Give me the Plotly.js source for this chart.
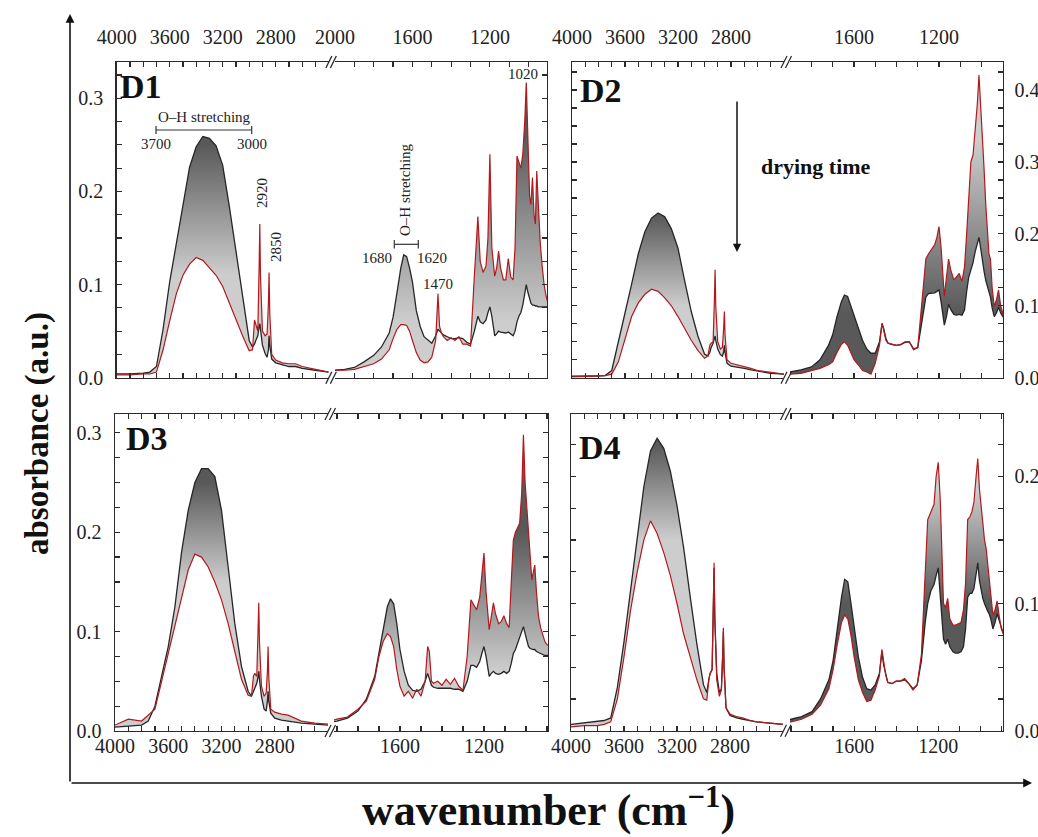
<!DOCTYPE html>
<html><head><meta charset="utf-8">
<script src="https://cdn.plot.ly/plotly-3.0.1.min.js"></script>
<style>html,body{margin:0;padding:0;background:#fff}#chart{width:1038px;height:837px}</style>
</head><body><div id="chart"></div>
<script>
// ---------- data (wavenumber grids, cm-1) ----------
const wnHigh = [4000,3900,3800,3750,3700,3650,3600,3550,3500,3450,3400,3350,3300,3250,3200,3150,3100,3050,3000,2975,2960,2950,2935,2925,2920,2915,2900,2880,2865,2855,2850,2845,2830,2800,2750,2700,2650,2600,2500,2400];
const wnLow = [2000,1950,1900,1850,1800,1760,1720,1700,1680,1660,1645,1630,1615,1600,1580,1560,1540,1520,1500,1480,1468,1460,1450,1440,1420,1400,1380,1360,1340,1320,1300,1280,1262,1250,1235,1220,1210,1200,1190,1175,1165,1155,1145,1130,1118,1105,1092,1080,1070,1060,1050,1040,1030,1020,1012,1004,995,988,980,972,965,958,950,940,930,920,910,900,890,880];

// first spectrum (start of drying, dark) and last spectrum (end of drying, red)
const d1FirstHigh = [0.004,0.004,0.005,0.006,0.012,0.052,0.103,0.146,0.185,0.226,0.248,0.259,0.257,0.249,0.228,0.184,0.136,0.085,0.040,0.033,0.036,0.040,0.045,0.055,0.058,0.052,0.035,0.026,0.022,0.030,0.045,0.035,0.020,0.016,0.014,0.012,0.012,0.010,0.008,0.006];
const d1LastHigh = [0.003,0.003,0.004,0.004,0.006,0.030,0.061,0.090,0.110,0.122,0.129,0.126,0.118,0.110,0.098,0.080,0.062,0.045,0.029,0.030,0.062,0.058,0.050,0.120,0.165,0.110,0.050,0.045,0.047,0.080,0.113,0.070,0.025,0.019,0.016,0.015,0.015,0.012,0.009,0.006];
const d1FirstLow = [0.008,0.009,0.011,0.017,0.024,0.033,0.048,0.065,0.091,0.118,0.132,0.130,0.118,0.103,0.072,0.055,0.044,0.040,0.037,0.045,0.052,0.050,0.048,0.046,0.044,0.042,0.042,0.043,0.042,0.038,0.036,0.050,0.066,0.060,0.058,0.062,0.070,0.076,0.066,0.045,0.047,0.050,0.049,0.048,0.048,0.049,0.047,0.045,0.050,0.060,0.066,0.070,0.078,0.090,0.100,0.092,0.085,0.080,0.078,0.078,0.077,0.077,0.076,0.076,0.076,0.076,0.076,0.076,0.076,0.076];
const d1LastLow = [0.008,0.008,0.009,0.012,0.015,0.020,0.030,0.042,0.052,0.057,0.057,0.056,0.050,0.040,0.027,0.019,0.016,0.017,0.022,0.040,0.090,0.055,0.048,0.044,0.040,0.043,0.040,0.044,0.036,0.036,0.034,0.110,0.173,0.125,0.113,0.120,0.150,0.240,0.140,0.109,0.118,0.136,0.118,0.105,0.105,0.128,0.108,0.105,0.140,0.238,0.232,0.225,0.240,0.275,0.317,0.250,0.195,0.186,0.215,0.175,0.165,0.222,0.185,0.145,0.120,0.100,0.088,0.080,0.078,0.078];

const d2FirstHigh = [0.002,0.002,0.002,0.003,0.010,0.048,0.090,0.130,0.172,0.203,0.222,0.229,0.224,0.207,0.180,0.135,0.092,0.058,0.033,0.030,0.035,0.042,0.048,0.055,0.058,0.052,0.040,0.032,0.030,0.036,0.045,0.035,0.020,0.016,0.015,0.013,0.011,0.009,0.006,0.005];
const d2LastHigh = [0.001,0.001,0.002,0.003,0.005,0.022,0.055,0.085,0.104,0.116,0.123,0.120,0.111,0.100,0.085,0.068,0.052,0.038,0.027,0.030,0.045,0.048,0.050,0.110,0.150,0.100,0.050,0.040,0.042,0.070,0.092,0.060,0.025,0.020,0.018,0.016,0.013,0.010,0.007,0.005];
const d2FirstLow = [0.006,0.007,0.008,0.011,0.015,0.025,0.045,0.060,0.085,0.105,0.115,0.113,0.100,0.088,0.070,0.052,0.040,0.034,0.034,0.050,0.075,0.068,0.055,0.048,0.046,0.045,0.046,0.049,0.050,0.040,0.042,0.080,0.112,0.117,0.118,0.118,0.120,0.122,0.105,0.073,0.085,0.102,0.095,0.088,0.087,0.088,0.087,0.094,0.120,0.140,0.150,0.160,0.175,0.185,0.195,0.180,0.160,0.148,0.135,0.125,0.118,0.112,0.097,0.085,0.090,0.098,0.090,0.085,0.085,0.085];
const d2LastLow = [0.004,0.004,0.005,0.006,0.010,0.013,0.018,0.022,0.035,0.046,0.050,0.045,0.035,0.025,0.018,0.010,0.008,0.005,0.020,0.045,0.076,0.066,0.052,0.048,0.046,0.045,0.046,0.050,0.050,0.039,0.042,0.110,0.165,0.172,0.178,0.185,0.195,0.210,0.180,0.113,0.140,0.165,0.150,0.136,0.140,0.145,0.134,0.154,0.200,0.260,0.300,0.310,0.340,0.380,0.421,0.370,0.330,0.290,0.240,0.200,0.172,0.165,0.125,0.099,0.108,0.122,0.100,0.090,0.088,0.088];

const d3FirstHigh = [0.004,0.005,0.006,0.010,0.025,0.055,0.085,0.125,0.180,0.222,0.250,0.264,0.264,0.256,0.222,0.165,0.108,0.065,0.040,0.035,0.040,0.045,0.048,0.055,0.060,0.052,0.035,0.022,0.020,0.030,0.040,0.030,0.018,0.013,0.011,0.010,0.009,0.008,0.007,0.006];
const d3LastHigh = [0.006,0.012,0.010,0.016,0.022,0.050,0.078,0.105,0.135,0.162,0.178,0.175,0.165,0.150,0.132,0.108,0.080,0.052,0.036,0.035,0.055,0.058,0.055,0.100,0.129,0.090,0.045,0.035,0.038,0.060,0.085,0.055,0.022,0.019,0.017,0.016,0.013,0.010,0.008,0.007];
const d3FirstLow = [0.008,0.008,0.010,0.013,0.020,0.032,0.055,0.078,0.105,0.125,0.133,0.128,0.108,0.082,0.060,0.046,0.041,0.040,0.042,0.050,0.058,0.052,0.046,0.044,0.043,0.043,0.043,0.043,0.042,0.042,0.040,0.050,0.066,0.066,0.064,0.070,0.078,0.085,0.075,0.055,0.058,0.060,0.058,0.057,0.058,0.060,0.058,0.060,0.068,0.078,0.082,0.088,0.092,0.098,0.105,0.098,0.090,0.085,0.083,0.082,0.082,0.082,0.080,0.079,0.078,0.077,0.076,0.076,0.076,0.076];
const d3LastLow = [0.010,0.009,0.012,0.014,0.022,0.030,0.052,0.075,0.090,0.098,0.095,0.085,0.062,0.045,0.035,0.040,0.033,0.042,0.035,0.050,0.085,0.080,0.050,0.048,0.050,0.046,0.052,0.047,0.053,0.045,0.041,0.075,0.132,0.128,0.122,0.135,0.155,0.179,0.140,0.102,0.115,0.129,0.118,0.108,0.110,0.116,0.108,0.104,0.150,0.192,0.200,0.205,0.209,0.240,0.298,0.250,0.222,0.200,0.180,0.152,0.160,0.167,0.140,0.115,0.104,0.096,0.090,0.087,0.086,0.086];

const d4FirstHigh = [0.005,0.006,0.007,0.008,0.010,0.034,0.070,0.110,0.152,0.192,0.220,0.230,0.222,0.204,0.177,0.144,0.105,0.068,0.036,0.030,0.040,0.045,0.048,0.100,0.128,0.090,0.045,0.030,0.033,0.060,0.078,0.050,0.018,0.012,0.010,0.009,0.008,0.007,0.006,0.005];
const d4LastHigh = [0.003,0.004,0.004,0.005,0.007,0.025,0.058,0.095,0.125,0.150,0.165,0.155,0.140,0.122,0.100,0.076,0.058,0.040,0.025,0.024,0.040,0.045,0.048,0.105,0.132,0.090,0.040,0.027,0.032,0.060,0.081,0.050,0.018,0.013,0.011,0.010,0.008,0.007,0.006,0.005];
const d4FirstLow = [0.008,0.008,0.009,0.011,0.015,0.025,0.040,0.055,0.080,0.105,0.119,0.117,0.100,0.082,0.058,0.042,0.033,0.032,0.036,0.045,0.062,0.052,0.044,0.038,0.037,0.039,0.039,0.040,0.037,0.033,0.036,0.055,0.085,0.100,0.110,0.115,0.122,0.128,0.105,0.072,0.068,0.072,0.066,0.062,0.061,0.061,0.062,0.066,0.080,0.105,0.108,0.108,0.112,0.122,0.132,0.118,0.110,0.104,0.100,0.096,0.094,0.092,0.088,0.080,0.085,0.092,0.086,0.080,0.076,0.074];
const d4LastLow = [0.006,0.006,0.007,0.009,0.013,0.020,0.033,0.048,0.068,0.085,0.091,0.088,0.075,0.058,0.040,0.030,0.023,0.024,0.032,0.043,0.064,0.054,0.044,0.038,0.037,0.039,0.039,0.041,0.037,0.032,0.036,0.060,0.120,0.166,0.172,0.178,0.200,0.211,0.180,0.100,0.097,0.104,0.088,0.083,0.083,0.084,0.085,0.095,0.116,0.166,0.168,0.172,0.180,0.200,0.214,0.190,0.174,0.160,0.150,0.143,0.132,0.122,0.105,0.091,0.095,0.102,0.090,0.080,0.076,0.074];

const panelLabels = ['D1','D2','D3','D4'];
const highTickLabels = [4000,3600,3200,2800];
const lowTickLabelsD1 = [2000,1600,1200];
const lowTickLabels = [1600,1200];
const yTickLabels = [0.0,0.1,0.2,0.3,0.4];

// ---------- layout helpers (pixel geometry) ----------
const W = 1038, H = 837;
const fx = p => p / W;
const fy = p => 1 - p / H;
const FONT = 'Liberation Serif, Times New Roman, serif';
const INK = '#2a2a2a';
const LIGHT = '#cdcdcd', DARK = '#595959';
const darkTop = [[0, LIGHT], [1, DARK]];
const darkBottom = [[0, DARK], [1, LIGHT]];

const panels = [
  {label: panelLabels[0], first: [d1FirstHigh, d1FirstLow], last: [d1LastHigh, d1LastLow],
   left: [116.7, 328.7], right: [335, 547], top: 62, bottom: 377.7, yMax: 0.339,
   lowRange: [2000, 905], lowLabels: lowTickLabelsD1, xSide: 'top', ySide: 'left', lab: [141, 87],
   grad: [{cs: darkTop, start: 0.11, stop: 0.25}, {cs: darkTop, start: 0.06, stop: 0.26}]},
  {label: panelLabels[1], first: [d2FirstHigh, d2FirstLow], last: [d2LastHigh, d2LastLow],
   left: [572, 784], right: [790, 1003], top: 62, bottom: 377.7, yMax: 0.439,
   lowRange: [1901, 899], lowLabels: lowTickLabels, xSide: 'top', ySide: 'right', lab: [601, 90],
   grad: [{cs: darkTop, start: 0.10, stop: 0.225}, {cs: darkBottom, start: 0.09, stop: 0.33}]},
  {label: panelLabels[2], first: [d3FirstHigh, d3FirstLow], last: [d3LastHigh, d3LastLow],
   left: [115, 328], right: [334, 548], top: 414, bottom: 731, yMax: 0.319,
   lowRange: [1914, 895], lowLabels: lowTickLabels, xSide: 'bottom', ySide: 'left', lab: [146.7, 438],
   grad: [{cs: darkTop, start: 0.15, stop: 0.25}, {cs: darkTop, start: 0.06, stop: 0.2}]},
  {label: panelLabels[3], first: [d4FirstHigh, d4FirstLow], last: [d4LastHigh, d4LastLow],
   left: [571, 783], right: [790, 1003], top: 414, bottom: 730.7, yMax: 0.249,
   lowRange: [1905, 892], lowLabels: lowTickLabels, xSide: 'bottom', ySide: 'right', lab: [600, 447],
   grad: [{cs: darkTop, start: 0.15, stop: 0.225}, {cs: darkBottom, start: 0.1, stop: 0.19}]}
];

// tick positions every 100 cm-1, labels only on the listed values
function xTicks(range, labels) {
  const hi = Math.max(range[0], range[1]), lo = Math.min(range[0], range[1]);
  const vals = [], text = [];
  for (let v = 4000; v >= 800; v -= 100) {
    if (v <= hi + 0.1 && v >= lo - 0.1) { vals.push(v); text.push(labels.indexOf(v) >= 0 ? String(v) : ''); }
  }
  return {vals, text};
}
// y ticks every 0.025, labels every 0.1
function yTicks(yMax) {
  const vals = [], text = [];
  for (let k = 0; k * 0.025 <= yMax + 1e-9; k++) {
    const v = +(k * 0.025).toFixed(3);
    vals.push(v);
    const lab = yTickLabels.find(t => Math.abs(t - v) < 1e-9);
    text.push(lab !== undefined ? lab.toFixed(1) : '');
  }
  return {vals, text};
}

const traces = [];
const layout = {
  width: W, height: H, margin: {l: 0, r: 0, t: 0, b: 0},
  paper_bgcolor: '#fff', plot_bgcolor: '#fff', showlegend: false,
  font: {family: FONT, color: '#222'},
  shapes: [], annotations: []
};

function axName(prefix, n) { return n === 1 ? prefix : prefix + n; }
function layoutKey(prefix, n) { return n === 1 ? prefix + 'axis' : prefix + 'axis' + n; }

const tickFont = {family: FONT, size: 20, color: '#222'};

panels.forEach((p, i) => {
  const a = 2 * i + 1, b = 2 * i + 2;
  const xRanges = [[4000, 2400], p.lowRange];
  const xLabelSets = [highTickLabels, p.lowLabels];
  const doms = [p.left, p.right];
  const wn = [wnHigh, wnLow];
  const yt = yTicks(p.yMax);
  [a, b].forEach((n, s) => {
    const xa = axName('x', n), ya = axName('y', n);
    const xt = xTicks(xRanges[s], xLabelSets[s]);
    layout[layoutKey('x', n)] = {
      domain: [fx(doms[s][0]), fx(doms[s][1])], range: xRanges[s], anchor: ya,
      side: p.xSide, showline: true, linecolor: INK, linewidth: 1.4, mirror: 'allticks',
      ticks: 'inside', ticklen: 5, tickwidth: 1.2, tickcolor: INK,
      tickmode: 'array', tickvals: xt.vals, ticktext: xt.text,
      tickfont: tickFont, ticklabelstandoff: p.xSide === 'top' ? 9 : -3,
      showgrid: false, zeroline: false, fixedrange: true
    };
    const side = s === 0 ? 'left' : 'right';
    layout[layoutKey('y', n)] = {
      domain: [fy(p.bottom), fy(p.top)], range: [0, p.yMax], anchor: xa, side: side,
      showline: true, linecolor: INK, linewidth: 1.4, mirror: false,
      ticks: 'inside', ticklen: 5, tickwidth: 1.2, tickcolor: INK,
      tickmode: 'array', tickvals: yt.vals, ticktext: yt.text,
      showticklabels: side === p.ySide, tickfont: tickFont, ticklabelstandoff: side === 'right' ? 6 : 8,
      showgrid: false, zeroline: false, fixedrange: true
    };
    const g = p.grad[s];
    const base = {x: wn[s], xaxis: xa, yaxis: ya, mode: 'lines', hoverinfo: 'skip'};
    traces.push(Object.assign({}, base, {y: p.first[s], line: {width: 0, color: 'rgba(0,0,0,0)'}}));
    traces.push(Object.assign({}, base, {y: p.last[s], fill: 'tonexty', fillcolor: '#9a9a9a',
      fillgradient: {type: 'vertical', colorscale: g.cs, start: g.start, stop: g.stop},
      line: {width: 0, color: 'rgba(0,0,0,0)'}}));
    traces.push(Object.assign({}, base, {y: p.first[s], line: {width: 1.3, color: '#262626'}}));
    traces.push(Object.assign({}, base, {y: p.last[s], line: {width: 1.2, color: '#b3191c'}}));
  });

  // axis-break marks
  const gx = (p.left[1] + p.right[0]) / 2;
  [p.top, p.bottom].forEach(yy => {
    [-3, 1.5].forEach(dx => {
      layout.shapes.push({type: 'line', xref: 'paper', yref: 'paper',
        x0: fx(gx + dx - 3), y0: fy(yy + 6), x1: fx(gx + dx + 3), y1: fy(yy - 6),
        line: {color: INK, width: 1.3}});
    });
  });

  // panel label
  layout.annotations.push({xref: 'paper', yref: 'paper', x: fx(p.lab[0]), y: fy(p.lab[1]),
    text: '<b>' + p.label + '</b>', showarrow: false, xanchor: 'center', yanchor: 'middle',
    font: {family: FONT, size: 34, color: '#111'}});
});

function txt(t, x, y, size, extra) {
  layout.annotations.push(Object.assign({xref: 'paper', yref: 'paper', x: fx(x), y: fy(y), text: t,
    showarrow: false, xanchor: 'center', yanchor: 'middle',
    font: {family: FONT, size: size, color: '#222'}}, extra || {}));
}
function seg(x0, y0, x1, y1, w) {
  layout.shapes.push({type: 'line', xref: 'paper', yref: 'paper', x0: fx(x0), y0: fy(y0), x1: fx(x1), y1: fy(y1),
    line: {color: '#333', width: w || 1.2}});
}

// D1 annotations
txt('O–H stretching', 204, 117, 15);
seg(156, 130, 251.7, 130); seg(156, 126, 156, 134); seg(251.7, 126, 251.7, 134);
txt('3700', 155.7, 144, 15);
txt('3000', 251.7, 144, 15);
txt('2920', 262, 193, 15, {textangle: -90});
txt('2850', 276, 247, 15, {textangle: -90});
txt('O–H stretching', 405, 190, 15, {textangle: -90});
seg(394.3, 244.3, 418.3, 244.3); seg(394.3, 240, 394.3, 248.5); seg(418.3, 240, 418.3, 248.5);
txt('1680', 376.7, 258, 15);
txt('1620', 431.7, 258, 15);
txt('1470', 437.7, 284, 15);
txt('1020', 523.3, 74, 15);

// D2 drying-time arrow
txt('<b>drying time</b>', 816, 167, 22, {font: {family: FONT, size: 22, color: '#111'}});
layout.annotations.push({xref: 'paper', yref: 'paper', x: fx(737), y: fy(252), ax: 0, ay: -152,
  text: '', showarrow: true, arrowhead: 2, arrowsize: 1.1, arrowwidth: 1.5, arrowcolor: '#111'});

// outer arrows (axes of the figure)
layout.annotations.push({xref: 'paper', yref: 'paper', x: fx(70), y: fy(14), ax: 0, ay: 769,
  text: '', showarrow: true, arrowhead: 2, arrowsize: 1.1, arrowwidth: 1.6, arrowcolor: '#111'});
layout.annotations.push({xref: 'paper', yref: 'paper', x: fx(1032), y: fy(783), ax: -962, ay: 0,
  text: '', showarrow: true, arrowhead: 2, arrowsize: 1.1, arrowwidth: 1.6, arrowcolor: '#111'});

// figure titles
txt('<b>absorbance (a.u.)</b>', 37, 434, 33, {textangle: -90, font: {family: FONT, size: 33, color: '#111'}});
txt('<b>wavenumber (cm<sup>−1</sup>)</b>', 548, 807, 44, {font: {family: FONT, size: 44, color: '#111'}});

Plotly.newPlot('chart', traces, layout, {staticPlot: true, displayModeBar: false});
</script>
</body></html>
